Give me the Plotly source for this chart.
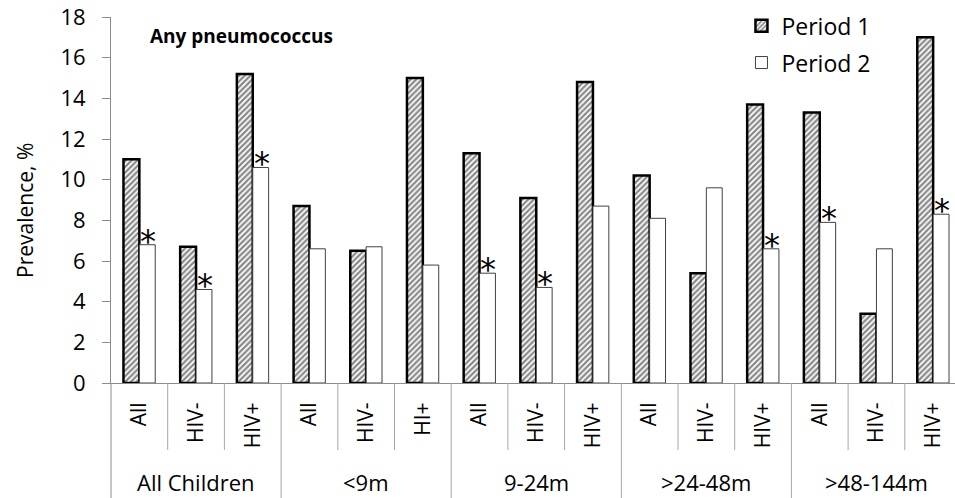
import plotly.graph_objects as go

# Age groups and the HIV strata shown within each one
age_groups = ["All Children", "<9m", "9-24m", ">24-48m", ">48-144m"]
strata = ["All", "HIV-", "HIV+",
          "All", "HIV-", "HI+",
          "All", "HIV-", "HIV+",
          "All", "HIV-", "HIV+",
          "All", "HIV-", "HIV+"]

# Prevalence of any pneumococcus (%)
period1 = [11.0, 6.7, 15.2, 8.7, 6.5, 15.0, 11.3, 9.1, 14.8, 10.2, 5.4, 13.7, 13.3, 3.4, 17.0]
period2 = [6.8, 4.6, 10.6, 6.6, 6.7, 5.8, 5.4, 4.7, 8.7, 8.1, 9.6, 6.6, 7.9, 6.6, 8.3]

# Significant change between periods (asterisk over Period 2 bar)
significant = [True, True, True, False, False, False, True, True, False,
               False, False, True, True, False, True]

FONT = "Open Sans"
AXIS_GREY = "#8c8c8c"
SEP_GREY = "#a6a6a6"

n = len(strata)
xs = list(range(n))
per_group = n // len(age_groups)

fig = go.Figure()
fig.add_trace(go.Bar(
    x=xs, y=period1, name="Period 1", legendgroup="p1",
    marker=dict(color="white",
                line=dict(color="black", width=2.5),
                pattern=dict(shape="/", fgcolor="#111111", bgcolor="white",
                             size=4, solidity=0.55)),
))
fig.add_trace(go.Bar(
    x=xs, y=period2, name="Period 2", legendgroup="p2",
    marker=dict(color="white", line=dict(color="#404040", width=1)),
))

plot_w = 955 - 111
plot_h = 498 - 17 - 115
bar_gap = 0.44
bar_w = (1 - bar_gap) / 2

# Asterisks above the Period 2 bars with a significant change
for i, (v, sig) in enumerate(zip(period2, significant)):
    if sig:
        fig.add_annotation(x=i + bar_w / 2, y=v, xref="x", yref="y",
                           text="*", showarrow=False, yanchor="bottom",
                           yshift=-17, xshift=1,
                           font=dict(family="DejaVu Sans", size=32, color="black"))

# Separators below the axis: short ones between strata, long ones between age groups
shapes = []
bottom = -115 / plot_h
short = -(450 - 383) / plot_h
for b in range(1, n):
    is_group = b % per_group == 0
    shapes.append(dict(type="line", xref="x", yref="paper",
                       x0=b - 0.5, x1=b - 0.5, y0=0, y1=bottom if is_group else short,
                       line=dict(color=SEP_GREY, width=1)))
# left axis line continues down through the label area
shapes.append(dict(type="line", xref="paper", yref="paper", x0=0, x1=0,
                   y0=0, y1=bottom, line=dict(color=AXIS_GREY, width=1)))

# Age-group labels
for g, name in enumerate(age_groups):
    fig.add_annotation(x=g * per_group + (per_group - 1) / 2, y=(383 - 482) / plot_h,
                       xref="x", yref="paper", text=name, showarrow=False,
                       yanchor="middle", font=dict(family=FONT, size=22, color="black"))

# Panel title
fig.add_annotation(x=(148 - 111) / plot_w, y=(383 - 36) / plot_h,
                   xref="paper", yref="paper",
                   text="<b>Any pneumococcus</b>", showarrow=False,
                   xanchor="left", yanchor="middle",
                   font=dict(family=FONT, size=19, color="black"))

# Y-axis title as rotated text
fig.add_annotation(x=(25 - 111) / plot_w, y=(383 - 211) / plot_h,
                   xref="paper", yref="paper", text="Prevalence, %",
                   showarrow=False, textangle=-90, xanchor="center", yanchor="middle",
                   font=dict(family=FONT, size=21, color="black"))

fig.update_layout(
    width=955, height=498,
    margin=dict(l=111, r=0, t=17, b=115),
    plot_bgcolor="white", paper_bgcolor="white",
    barmode="group", bargap=bar_gap, bargroupgap=0,
    shapes=shapes,
    font=dict(family=FONT, size=20, color="black"),
    legend=dict(x=0.747, y=1.035, xanchor="left", yanchor="top",
                bgcolor="rgba(0,0,0,0)", font=dict(family=FONT, size=23),
                traceorder="grouped", tracegroupgap=4),
    xaxis=dict(range=[-0.5, -0.5 + plot_w / 56.7], tickvals=xs, ticktext=strata,
               tickangle=-90, ticks="", showline=True, linecolor=AXIS_GREY,
               linewidth=1, showgrid=False, zeroline=False, ticklabelstandoff=10,
               tickfont=dict(family=FONT, size=21)),
    yaxis=dict(range=[0, 18], dtick=2, ticks="outside", ticklen=8, tickcolor=AXIS_GREY,
               showline=True, linecolor=AXIS_GREY, linewidth=1, showgrid=False,
               zeroline=False, ticklabelstandoff=12,
               tickfont=dict(family=FONT, size=22)),
)

fig.write_html("out.html")
